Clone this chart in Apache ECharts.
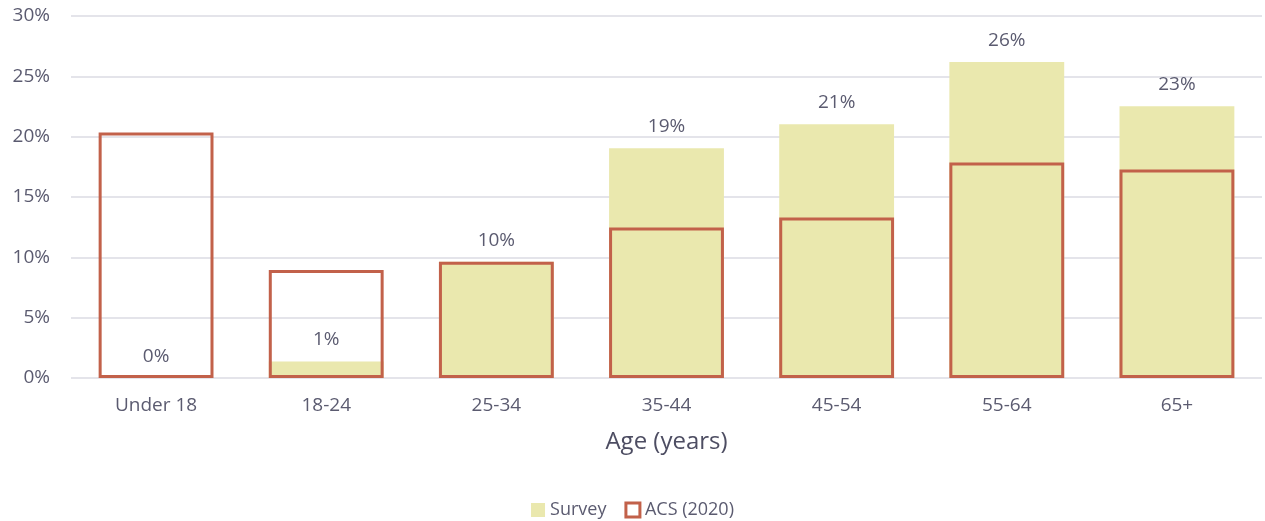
<!DOCTYPE html>
<html><head><meta charset="utf-8">
<script src="https://cdn.jsdelivr.net/npm/echarts@6/dist/echarts.min.js"></script>
<style>html,body{margin:0;padding:0;background:#fff}#c{width:1265px;height:521px}</style>
</head><body><div id="c"></div>
<script>
const categories = ['Under 18','18-24','25-34','35-44','45-54','55-64','65+'];
const survey = [0, 1.36, 9.64, 19.04, 21.03, 26.18, 22.53];
const acs = [20.35, 8.95, 9.64, 12.47, 13.3, 17.85, 17.28];
const yTicks = [0, 5, 10, 15, 20, 25, 30];

const textColor = '#5b5b70';
const font = '"Open Sans", "Noto Sans", sans-serif';
const chart = echarts.init(document.getElementById('c'));
chart.setOption({
  animation: false,
  textStyle: {fontFamily: font},
  grid: {left: 71, right: 3, top: 16, bottom: 143, containLabel: false},
  legend: {
    top: 496, left: 'center', itemWidth: 14, itemHeight: 14, itemGap: 18,
    textStyle: {fontSize: 18, color: textColor, fontFamily: font},
    data: [
      {name: 'Survey', icon: 'rect', itemStyle: {color: '#eae8ae', borderWidth: 0}},
      {name: 'ACS (2020)', icon: 'rect', itemStyle: {color: '#fff', borderColor: '#c2614a', borderWidth: 3}}
    ]
  },
  xAxis: {
    type: 'category', data: categories,
    name: 'Age (years)', nameLocation: 'middle', nameGap: 52,
    nameTextStyle: {fontSize: 24, color: '#4d4d62', fontWeight: 500, fontFamily: font},
    axisLine: {show: false}, axisTick: {show: false},
    axisLabel: {fontSize: 19, color: textColor, margin: 18, fontFamily: font}
  },
  yAxis: {
    type: 'value', min: yTicks[0], max: yTicks[yTicks.length-1], interval: 5,
    axisLabel: {fontSize: 19, color: textColor, margin: 21, formatter: v => v + '%', fontFamily: font},
    splitLine: {lineStyle: {color: '#e4e4ea', width: 2}},
    axisLine: {show: false}, axisTick: {show: false}
  },
  series: [
    {
      name: 'Survey', type: 'bar', data: survey, barWidth: '67.5%', barGap: '-100%',
      itemStyle: {color: '#eae8ae'},
      label: {show: true, position: 'top', distance: 12, fontSize: 19, color: textColor,
        formatter: p => Math.round(p.value) + '%', fontFamily: font},
      z: 2
    },
    {
      name: 'ACS (2020)', type: 'bar', data: acs, barWidth: '67.5%',
      itemStyle: {color: 'rgba(0,0,0,0)', borderColor: '#c2614a', borderWidth: 3},
      z: 3
    }
  ]
});
</script></body></html>
